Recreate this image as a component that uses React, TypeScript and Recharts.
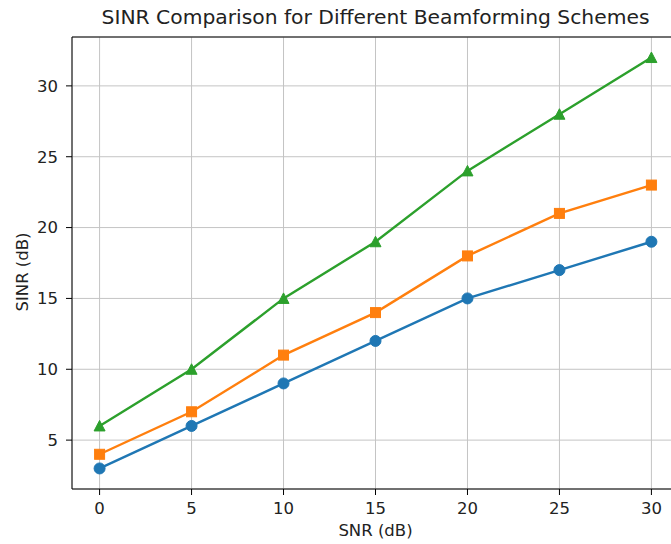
import React from 'react';
import {
  LineChart,
  Line,
  XAxis,
  YAxis,
  CartesianGrid,
  ReferenceLine,
} from 'recharts';

const snr = [0, 5, 10, 15, 20, 25, 30];
const schemeA = [3, 6, 9, 12, 15, 17, 19];
const schemeB = [4, 7, 11, 14, 18, 21, 23];
const schemeC = [6, 10, 15, 19, 24, 28, 32];
const xTicks = [0, 5, 10, 15, 20, 25, 30];
const yTicks = [5, 10, 15, 20, 25, 30];

const data = snr.map((s, i) => ({ snr: s, a: schemeA[i], b: schemeB[i], c: schemeC[i] }));

const FONT = '"DejaVu Sans", sans-serif';

const makeDot = (shape: 'circle' | 'square' | 'triangle', color: string) => (props: any) => {
  const { cx, cy, index } = props;
  if (cx == null || cy == null) return <g key={`n-${index}`} />;
  if (shape === 'circle') {
    return <circle key={`d-${index}`} cx={cx} cy={cy} r={5.5} fill={color} stroke={color} />;
  }
  if (shape === 'square') {
    return <rect key={`d-${index}`} x={cx - 5} y={cy - 5} width={10} height={10} fill={color} stroke={color} />;
  }
  return (
    <polygon
      key={`d-${index}`}
      points={`${cx},${cy - 5.5} ${cx - 5.5},${cy + 5} ${cx + 5.5},${cy + 5}`}
      fill={color}
      stroke={color}
    />
  );
};

export default function App() {
  return (
    <div
      style={{
        position: 'absolute',
        left: 0,
        top: 0,
        width: 671,
        height: 544,
        overflow: 'hidden',
        background: '#fff',
        fontFamily: FONT,
      }}
    >
      <div
        style={{
          position: 'absolute',
          left: 0,
          top: 5,
          width: 751,
          textAlign: 'center',
          fontSize: 20.3,
          color: '#222',
          whiteSpace: 'nowrap',
        }}
      >
        SINR Comparison for Different Beamforming Schemes
      </div>
      <LineChart width={700} height={544} data={data} margin={{ top: 37, right: 21, bottom: 0, left: 0 }}>
        <CartesianGrid stroke="#c4c4c4" strokeWidth={1} />
        <XAxis
          dataKey="snr"
          type="number"
          domain={[-1.5, 31.5]}
          ticks={xTicks}
          allowDataOverflow
          height={55}
          stroke="#000"
          tickSize={6}
          tickMargin={7}
          tick={{ fill: '#222', fontSize: 16.5, fontFamily: FONT }}
          label={{ value: 'SNR (dB)', position: 'insideBottom', offset: 8, fill: '#222', fontSize: 16.5, fontFamily: FONT }}
        />
        <YAxis
          type="number"
          domain={[1.55, 33.45]}
          ticks={yTicks}
          allowDataOverflow
          width={72}
          stroke="#000"
          tickSize={6}
          tickMargin={8}
          tick={{ fill: '#222', fontSize: 16.5, fontFamily: FONT }}
          label={{ value: 'SINR (dB)', angle: -90, position: 'center', dx: -14, dy: 9, fill: '#222', fontSize: 16.5, fontFamily: FONT }}
        />
        <ReferenceLine y={33.45} stroke="#000" strokeWidth={1} />
        <Line
          dataKey="a"
          stroke="#1f77b4"
          strokeWidth={2.4}
          dot={makeDot('circle', '#1f77b4')}
          isAnimationActive={false}
        />
        <Line
          dataKey="b"
          stroke="#ff7f0e"
          strokeWidth={2.4}
          dot={makeDot('square', '#ff7f0e')}
          isAnimationActive={false}
        />
        <Line
          dataKey="c"
          stroke="#2ca02c"
          strokeWidth={2.4}
          dot={makeDot('triangle', '#2ca02c')}
          isAnimationActive={false}
        />
      </LineChart>
    </div>
  );
}
